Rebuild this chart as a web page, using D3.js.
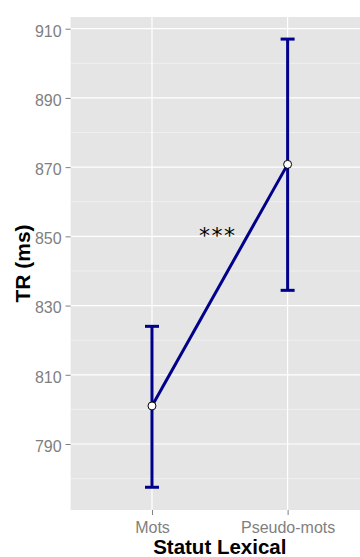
<!DOCTYPE html>
<html>
<head>
<meta charset="utf-8">
<script src="https://cdn.jsdelivr.net/npm/d3@7"></script>
<style>
  html, body { margin: 0; padding: 0; background: #ffffff; }
  svg { display: block; }
</style>
</head>
<body>
<div id="chart"></div>
<script>
// Reaction times (ms) by lexical status, with error bars
const categories = ["Mots", "Pseudo-mots"];
const means = [801, 870.8];
const lower = [777.5, 834.4];
const upper = [824, 907];
const yTicks = [790, 810, 830, 850, 870, 890, 910];
const yMinorTicks = [780, 800, 820, 840, 860, 880, 900];
const signifLabel = "***";
const signifPos = [1.485, 848];

const width = 360, height = 557;
const panel = { left: 70.6, right: 369, top: 17, bottom: 510 };

const svg = d3.select("#chart").append("svg")
  .attr("width", width).attr("height", height)
  .style("font-family", "'Liberation Sans', Arial, sans-serif");

// discrete positions 1..n with the usual 0.6 expansion on each side
const x = d3.scaleLinear().domain([0.4, categories.length + 0.6]).range([panel.left, panel.right]);
const y = d3.scaleLinear().domain([910, 790]).range([28.7, 444]);
const xi = i => x(i + 1);

// panel background
svg.append("rect")
  .attr("x", panel.left).attr("y", panel.top)
  .attr("width", panel.right - panel.left).attr("height", panel.bottom - panel.top)
  .attr("fill", "#E5E5E5");

const grid = svg.append("g");
grid.selectAll("line.minor").data(yMinorTicks).join("line")
  .attr("class", "minor")
  .attr("x1", panel.left).attr("x2", panel.right)
  .attr("y1", d => y(d)).attr("y2", d => y(d))
  .attr("stroke", "#F2F2F2").attr("stroke-width", 0.8);
grid.selectAll("line.major").data(yTicks).join("line")
  .attr("class", "major")
  .attr("x1", panel.left).attr("x2", panel.right)
  .attr("y1", d => y(d)).attr("y2", d => y(d))
  .attr("stroke", "#FFFFFF").attr("stroke-width", 1.2);
grid.selectAll("line.xmajor").data(categories).join("line")
  .attr("class", "xmajor")
  .attr("x1", (d, i) => xi(i)).attr("x2", (d, i) => xi(i))
  .attr("y1", panel.top).attr("y2", panel.bottom)
  .attr("stroke", "#FFFFFF").attr("stroke-width", 1.2);

// y axis
const yAxis = d3.axisLeft(y).tickValues(yTicks).tickSize(5).tickPadding(4);
const gy = svg.append("g").attr("transform", `translate(${panel.left},0)`).call(yAxis);
gy.select(".domain").remove();
gy.selectAll(".tick line").attr("stroke", "#7F7F7F").attr("stroke-width", 1);
gy.selectAll(".tick text")
  .attr("fill", "#7F7F7F").attr("font-size", 16).attr("dy", "0.46em")
  .style("font-family", "'Liberation Sans', Arial, sans-serif");

// x axis
const xBand = d3.scalePoint().domain(categories).range([xi(0), xi(categories.length - 1)]);
const xAxis = d3.axisBottom(xBand).tickSize(5).tickPadding(4);
const gx = svg.append("g").attr("transform", `translate(0,${panel.bottom})`).call(xAxis);
gx.select(".domain").remove();
gx.selectAll(".tick line").attr("stroke", "#7F7F7F").attr("stroke-width", 1);
gx.selectAll(".tick text")
  .attr("fill", "#7F7F7F").attr("font-size", 16).attr("dy", "0.9em")
  .style("font-family", "'Liberation Sans', Arial, sans-serif");

// axis titles
svg.append("text")
  .attr("x", (panel.left + panel.right) / 2).attr("y", 553.5)
  .attr("text-anchor", "middle")
  .attr("font-size", 20.5).attr("font-weight", "bold").attr("fill", "#000")
  .text("Statut Lexical");
svg.append("text")
  .attr("transform", `translate(30,${(panel.top + panel.bottom) / 2}) rotate(-90)`)
  .attr("text-anchor", "middle")
  .attr("font-size", 21).attr("font-weight", "bold").attr("fill", "#000")
  .text("TR (ms)");

const blue = "#00008B";
const capHalf = 7;
const data = categories.map((c, i) => ({ c, i, m: means[i], lo: lower[i], hi: upper[i] }));

// error bars
const eb = svg.append("g").attr("stroke", blue).attr("stroke-width", 3).attr("fill", "none");
eb.selectAll("line.v").data(data).join("line").attr("class", "v")
  .attr("x1", d => xi(d.i)).attr("x2", d => xi(d.i))
  .attr("y1", d => y(d.lo)).attr("y2", d => y(d.hi));
eb.selectAll("line.top").data(data).join("line").attr("class", "top")
  .attr("x1", d => xi(d.i) - capHalf).attr("x2", d => xi(d.i) + capHalf)
  .attr("y1", d => y(d.hi)).attr("y2", d => y(d.hi));
eb.selectAll("line.bot").data(data).join("line").attr("class", "bot")
  .attr("x1", d => xi(d.i) - capHalf).attr("x2", d => xi(d.i) + capHalf)
  .attr("y1", d => y(d.lo)).attr("y2", d => y(d.lo));

// connecting line
svg.append("path").datum(data)
  .attr("fill", "none").attr("stroke", blue).attr("stroke-width", 3)
  .attr("d", d3.line().x(d => xi(d.i)).y(d => y(d.m)));

// mean points
svg.selectAll("circle.pt").data(data).join("circle").attr("class", "pt")
  .attr("cx", d => xi(d.i)).attr("cy", d => y(d.m)).attr("r", 4)
  .attr("fill", "#fff").attr("stroke", "#000").attr("stroke-width", 1);

// significance marker
svg.append("text")
  .attr("x", x(signifPos[0])).attr("y", y(signifPos[1]))
  .attr("text-anchor", "middle")
  .attr("font-size", 22).attr("letter-spacing", 1.5).attr("fill", "#000")
  .style("font-family", "'DejaVu Sans', sans-serif")
  .text(signifLabel);
</script>
</body>
</html>
